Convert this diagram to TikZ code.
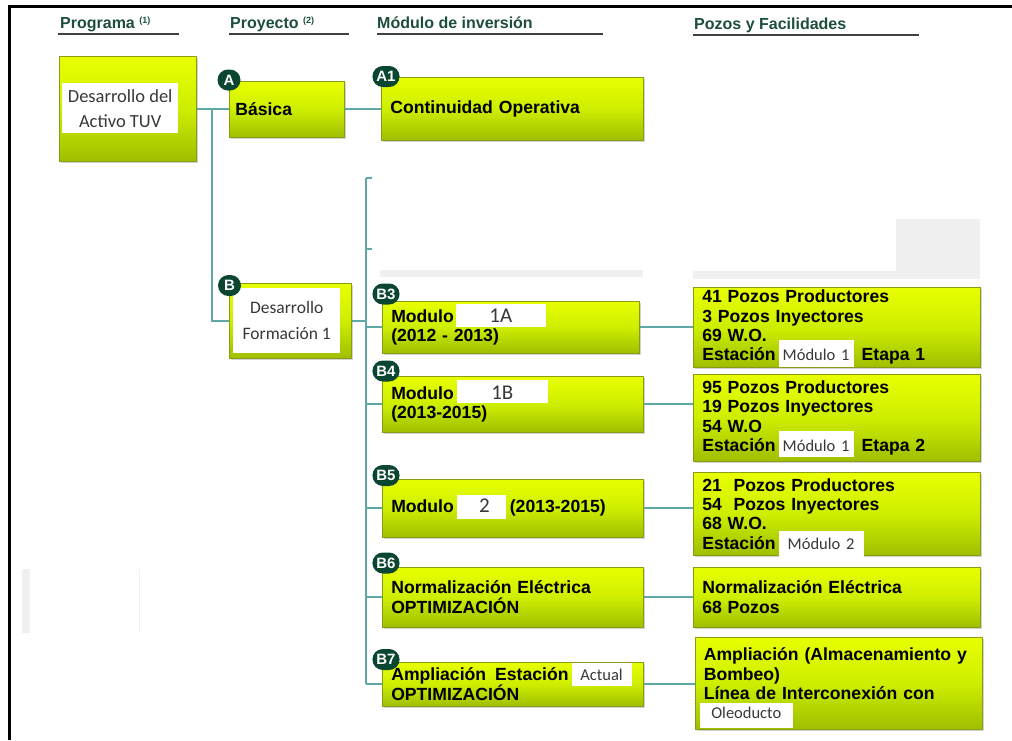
\documentclass[tikz,border=0pt]{standalone}
\usepackage{fontspec}
\setmainfont{Liberation Sans}
\newfontfamily\calfnt{Carlito}
\usetikzlibrary{shadows}

\definecolor{limetop}{RGB}{232,255,0}
\definecolor{limemid}{RGB}{206,238,0}
\definecolor{limebot}{RGB}{160,190,0}
\definecolor{limeedge}{RGB}{138,156,20}
\definecolor{connteal}{RGB}{95,168,168}
\definecolor{badgegreen}{RGB}{10,70,48}
\definecolor{headgreen}{RGB}{28,78,58}
\definecolor{ghost}{RGB}{240,240,240}

% white label patch: width, depth, total height, font size, text
\newcommand\wb[5]{\smash{\setlength\fboxsep{0pt}\colorbox{white}{\rule[-#2]{0pt}{#3}\makebox[#1]{\fontsize{#4}{#4}\selectfont\mdseries\calfnt\color{black!78}#5}}}}
\newcommand\hnote[1]{{\fontsize{9}{9}\selectfont\raisebox{5pt}{#1}}}

\tikzset{
  box/.style={draw=limeedge, line width=0.6pt,
    top color=limetop, bottom color=limebot, middle color=limemid,
    drop shadow={opacity=0.35, shadow xshift=1.5pt, shadow yshift=-2pt},
    anchor=north west, inner ysep=0pt, inner xsep=9pt, align=left,
    font=\fontsize{17.6}{19.4}\selectfont\bfseries},
  inset/.style={fill=white, anchor=north west, inner sep=0pt, align=center,
    text=black!78, font=\fontsize{18.5}{25}\selectfont\calfnt},
  badge/.style={fill=badgegreen, text=white, rounded corners=10.5pt,
    minimum height=21pt, minimum width=23pt, inner xsep=4pt, inner ysep=0pt,
    font=\fontsize{15}{15}\selectfont\bfseries},
  head/.style={anchor=base west, inner sep=0pt, text=headgreen,
    font=\fontsize{16}{16}\selectfont\bfseries},
  hline/.style={draw=black!75, line width=1.5pt},
  conn/.style={draw=connteal, line width=1.8pt},
  ghostfill/.style={fill=ghost, draw=none}
}

\begin{document}
\begin{tikzpicture}[x=1pt,y=-1pt]
\useasboundingbox (0,0) rectangle (1012,740);

% faint remnants in the background
\path[ghostfill] (380,270) rectangle (643,277);
\path[ghostfill] (693,271) rectangle (980,279);
\path[ghostfill] (896,219) rectangle (980,279);
\path[ghostfill] (22,569) rectangle (30,633);
\draw[ghost, line width=1pt] (139,569) -- (139,633);

% outer frame
\draw[line width=3pt] (9.5,740) -- (9.5,6.5) -- (1012,6.5);

% column headings
\node[head] (hprog) at (60,28) {Programa \hnote{(1)}};
\node[head] (hproy) at (230,28) {Proyecto \hnote{(2)}};
\node[head] (hmod)  at (377,28) {Módulo de inversión};
\node[head] (hpoz)  at (694,29) {Pozos y Facilidades};
\draw[hline] (58,34) -- (179,34);
\draw[hline] (229,34) -- (349,34);
\draw[hline] (377,34) -- (603,34);
\draw[hline] (693,35) -- (919,35);

% programme
\node[box, minimum width=137pt, minimum height=105pt, inner xsep=0pt] (prog) at (59,56) {};
\node[inset, minimum width=116pt, minimum height=50pt] (progtxt) at (62,83) {Desarrollo del\\Activo TUV};

% projects
\node[box, text width=103pt, inner xsep=6pt, minimum height=56pt] (bas) at (229,81) {Básica};
\node[box, minimum width=122pt, minimum height=75pt, inner xsep=0pt] (desf) at (229,283) {};
\node[inset, minimum width=107pt, minimum height=65pt, font=\fontsize{17.5}{26}\selectfont\calfnt] (desftxt) at (233,288) {Desarrollo\\Formación 1};

% investment modules
\node[box, text width=244pt, minimum height=63pt] (a1) at (381,77) {Continuidad Operativa};
\node[box, text width=239pt, minimum height=52pt] (b3) at (382,301)
  {Modulo\hspace{2pt}\wb{90pt}{5pt}{23pt}{21}{1A}\\(2012 - 2013)};
\node[box, text width=243pt, minimum height=56pt] (b4) at (382,376)
  {Modulo\hspace{3pt}\wb{91pt}{4pt}{23pt}{21}{1B}\\(2013-2015)};
\node[box, text width=243pt, minimum height=58pt] (b5) at (382,479)
  {Modulo\hspace{3pt}\wb{49pt}{6pt}{24pt}{21}{\hspace{6pt}2}\hspace{4pt}(2013-2015)};
\node[box, text width=243pt, minimum height=60pt] (b6) at (382,567)
  {Normalización Eléctrica\\OPTIMIZACIÓN};
\node[box, text width=243pt, minimum height=44pt] (b7) at (382,662)
  {Ampliación\hspace{9pt}Estación\hspace{3pt}\wb{60pt}{5pt}{23pt}{16.5}{Actual}\\OPTIMIZACIÓN};

% wells and facilities
\node[box, text width=269pt, minimum height=80pt] (r3) at (693,287)
  {41 Pozos Productores\\3 Pozos Inyectores\\69 W.O.\\Estación\hspace{3pt}\wb{75pt}{6pt}{27pt}{16.5}{Módulo 1}\hspace{8pt}Etapa 1};
\node[box, text width=269pt, minimum height=87pt] (r4) at (693,374)
  {95 Pozos Productores\\19 Pozos Inyectores\\54 W.O\\Estación\hspace{3pt}\wb{75pt}{6pt}{26pt}{16.5}{Módulo 1}\hspace{8pt}Etapa 2};
\node[box, text width=269pt, minimum height=83pt] (r5) at (693,472)
  {21\ \ Pozos Productores\\54\ \ Pozos Inyectores\\68 W.O.\\Estación\hspace{3pt}\wb{85pt}{9pt}{27pt}{16.5}{Módulo 2}};
\node[box, text width=269pt, minimum height=60pt] (r6) at (693,567)
  {Normalización Eléctrica\\68 Pozos};
\node[box, text width=270pt, inner xsep=8.5pt, minimum height=92pt] (r7) at (695,637)
  {Ampliación (Almacenamiento y\\Bombeo)\\Línea de Interconexión con\\\hspace*{-4pt}\wb{93pt}{9pt}{25pt}{16.5}{Oleoducto}};

% badges
\node[badge] (bgA)  at (229,80)    {A};
\node[badge] (bgA1) at (386,76.5)  {A1};
\node[badge] (bgB)  at (229.5,285.5) {B};
\node[badge] (bgB3) at (386,294)   {B3};
\node[badge] (bgB4) at (386,371)   {B4};
\node[badge] (bgB5) at (386,475.5) {B5};
\node[badge] (bgB6) at (386,563)   {B6};
\node[badge] (bgB7) at (386,659.5) {B7};

% connectors
\coordinate (t1) at (212,0);
\coordinate (t2top) at (366,178);
\coordinate (t2mid) at (366,249);
\draw[conn] (prog.east) -- (prog.east -| bas.west);
\draw[conn] (prog.east -| t1) |- (desf.west);
\draw[conn] (bas.east) -- (bas.east -| a1.west);
\draw[conn] (desf.east) -- (desf.east -| t2top);
\draw[conn] (t2top) -- (b7.west -| t2top);
\draw[conn] (t2top) -- ++(6,0);
\draw[conn] (t2mid) -- ++(6,0);
\foreach \n in {b3,b4,b5,b6,b7}
  \draw[conn] (\n.west -| t2top) -- (\n.west);
\draw[conn] (b3.east) -- (b3.east -| r3.west);
\draw[conn] (b4.east) -- (b4.east -| r4.west);
\draw[conn] (b5.east) -- (b5.east -| r5.west);
\draw[conn] (b6.east) -- (b6.east -| r6.west);
\draw[conn] (b7.east) -- (b7.east -| r7.west);
\end{tikzpicture}
\end{document}
